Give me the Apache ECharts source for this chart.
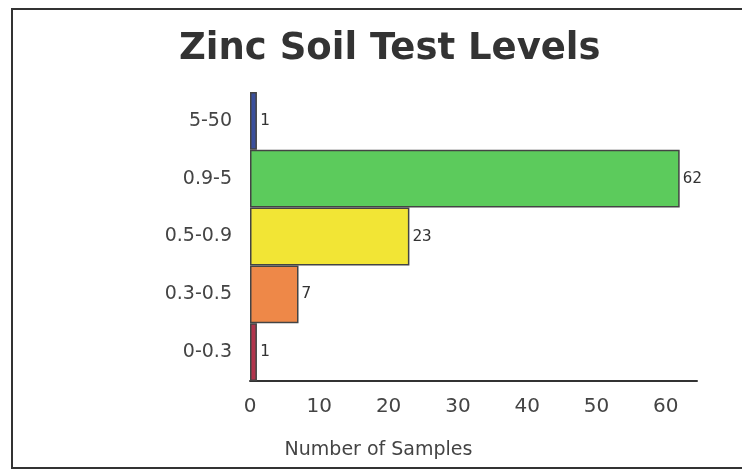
<!DOCTYPE html>
<html>
	<head>
		<meta charset="UTF-8">
		<title>Zinc Soil Test Levels</title>
		<script src="https://cdn.jsdelivr.net/npm/echarts@6/dist/echarts.min.js"></script>
		<style type="text/css">
			html, body { margin: 0; padding: 0; background: #fff; }
			#chart { width: 742px; height: 476px; }
		</style>
	</head>
	<body>
		<div id="chart"></div>
		<script type="text/javascript">
			// ranges, bottom to top as drawn
			var ranges = ['0-0.3', '0.3-0.5', '0.5-0.9', '0.9-5', '5-50'];
			var samples = [1, 7, 23, 62, 1];
			var barColors = ['#b2344c', '#ee8848', '#f2e535', '#5ccb5c', '#3a4f9c'];
			var xTicks = [0, 10, 20, 30, 40, 50, 60];

			var chart = echarts.init(document.getElementById('chart'));
			chart.setOption({
				animation: false,
				title: {
					text: 'Zinc Soil Test Levels',
					left: 174,
					top: 26,
					textStyle: {
						fontFamily: 'DejaVu Sans',
						fontWeight: 'bold',
						fontSize: 37,
						color: '#333'
					}
				},
				graphic: [{
					type: 'rect',
					shape: { x: 12, y: 9, width: 740, height: 459 },
					style: { fill: 'none', stroke: '#333', lineWidth: 2 },
					silent: true
				}],
				grid: { left: 250, right: 45, top: 92, bottom: 95 },
				xAxis: {
					type: 'value',
					min: 0,
					max: 64.5,
					interval: 10,
					name: 'Number of Samples',
					nameLocation: 'middle',
					nameGap: 60,
					nameTextStyle: {
						fontFamily: 'DejaVu Sans',
						fontSize: 19,
						color: '#444',
						padding: [0, 190, 0, 0]
					},
					axisLine: { show: true, lineStyle: { color: '#333', width: 2 } },
					axisTick: { show: false },
					splitLine: { show: false },
					axisLabel: {
						margin: 16,
						fontFamily: 'DejaVu Sans',
						fontSize: 20,
						color: '#444',
						formatter: function (v) {
							return xTicks.indexOf(v) >= 0 ? String(v) : '';
						}
					}
				},
				yAxis: {
					type: 'category',
					data: ranges,
					axisLine: { show: false },
					axisTick: { show: false },
					axisLabel: {
						margin: 18,
						fontFamily: 'DejaVu Sans',
						fontSize: 19,
						color: '#444'
					}
				},
				series: [{
					type: 'bar',
					barCategoryGap: '0%',
					data: samples.map(function (v, i) {
						return { value: v, itemStyle: { color: barColors[i] } };
					}),
					itemStyle: { borderColor: '#444', borderWidth: 1.5 },
					label: {
						show: true,
						position: 'right',
						distance: 3,
						fontFamily: 'DejaVu Sans Mono',
						fontSize: 16,
						color: '#333'
					}
				}]
			});
		</script>
	</body>
</html>
